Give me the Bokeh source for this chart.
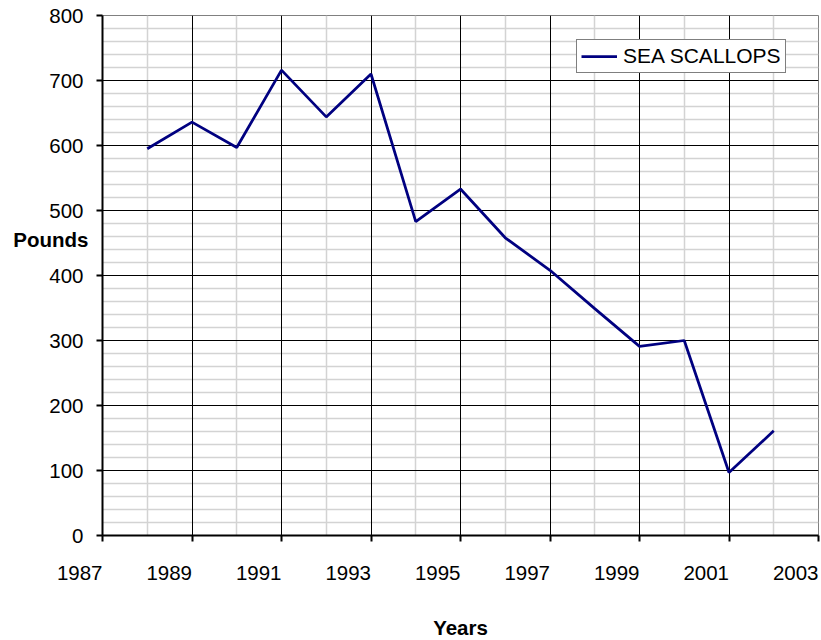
from bokeh.plotting import figure
from bokeh.models import (Range1d, FixedTicker, Legend, LegendItem, LinearAxis,
                          ColumnDataSource, Grid)
from bokeh.embed import file_html
from bokeh.resources import INLINE

# ---- data ----
years = [1988, 1989, 1990, 1991, 1992, 1993, 1994, 1995, 1996, 1997, 1998, 1999, 2000, 2001, 2002]
pounds = [595, 636, 597, 716, 644, 710, 483, 533, 458, 408, 349, 291, 300, 97, 161]
series_name = "SEA SCALLOPS"
x_major_ticks = [1987, 1989, 1991, 1993, 1995, 1997, 1999, 2001, 2003]
x_minor_ticks = [1988, 1990, 1992, 1994, 1996, 1998, 2000, 2002]
y_major_ticks = [0, 100, 200, 300, 400, 500, 600, 700, 800]
y_minor_ticks = [v for v in range(0, 801, 20) if v % 100 != 0]
x_title = "Years"
y_title = "Pounds"
y_title_level = 455  # vertical position of the horizontal y title, in data units

FONT = "Liberation Sans"
FS = "20.5px"

src = ColumnDataSource(data=dict(year=years, pounds=pounds))

p = figure(frame_width=716, frame_height=520, output_backend="svg", toolbar_location=None,
           x_range=Range1d(1987, 2003), y_range=Range1d(0, 800),
           min_border_left=102, min_border_right=3, min_border_top=15, min_border_bottom=105,
           background_fill_color="white", border_fill_color="white")

p.outline_line_color = "#808080"
p.outline_line_width = 1

xt = FixedTicker(ticks=x_major_ticks, minor_ticks=x_minor_ticks)
yt = FixedTicker(ticks=y_major_ticks, minor_ticks=y_minor_ticks)
p.xaxis.ticker = xt
p.yaxis.ticker = yt

# minor grids first, major grids added afterwards so they draw on top
for g in (p.xgrid, p.ygrid):
    g.grid_line_color = None
    g.minor_grid_line_color = "#d3d3d3"
    g.minor_grid_line_width = 1.5
    g.level = "underlay"
p.xgrid.ticker = xt
p.ygrid.ticker = yt
for dim, tk in ((0, xt), (1, yt)):
    p.add_layout(Grid(dimension=dim, ticker=tk, grid_line_color="black", grid_line_width=1,
                      level="underlay"), "center")

# axes
for ax in (p.xaxis, p.yaxis):
    ax.axis_line_color = "black"
    ax.axis_line_width = 2
    ax.major_tick_line_color = "black"
    ax.major_tick_line_width = 2
    ax.major_tick_out = 6
    ax.major_tick_in = 0
    ax.minor_tick_out = 0
    ax.minor_tick_in = 0
    ax.major_label_text_font = FONT
    ax.major_label_text_font_size = FS
    ax.major_label_text_color = "black"

p.yaxis.major_label_standoff = 13
# a tiny angle makes Bokeh right-align the year labels at their ticks (as in the reference)
p.xaxis.major_label_orientation = 1e-4
p.xaxis.major_label_standoff = 31

p.xaxis.axis_label = x_title
p.xaxis.axis_label_text_font = FONT
p.xaxis.axis_label_text_font_size = FS
p.xaxis.axis_label_text_font_style = "bold"
p.xaxis.axis_label_text_color = "black"
p.xaxis.axis_label_standoff = 26

# horizontal y title, placed between the 500 and 400 labels like in the reference
ytitle_axis = LinearAxis(ticker=FixedTicker(ticks=[y_title_level]),
                         major_label_overrides={y_title_level: y_title},
                         axis_line_color=None, major_tick_line_color=None,
                         major_tick_out=0, major_tick_in=0, minor_tick_out=0, minor_tick_in=0,
                         major_label_standoff=-42,
                         major_label_text_font=FONT, major_label_text_font_size=FS,
                         major_label_text_font_style="bold", major_label_text_color="black")
p.add_layout(ytitle_axis, "left")

# line
r = p.line(x="year", y="pounds", source=src, line_color="#000080", line_width=2.75)

legend = Legend(items=[LegendItem(label=series_name, renderers=[r])],
                location=(474, 462), margin=0, padding=4,
                glyph_width=36, glyph_height=20, label_standoff=6, label_height=20,
                label_text_font=FONT, label_text_font_size="21px", label_text_color="black",
                border_line_color="black", border_line_width=1,
                background_fill_color="white", background_fill_alpha=1)
p.add_layout(legend)

open("out.html", "w").write(file_html(p, INLINE))
